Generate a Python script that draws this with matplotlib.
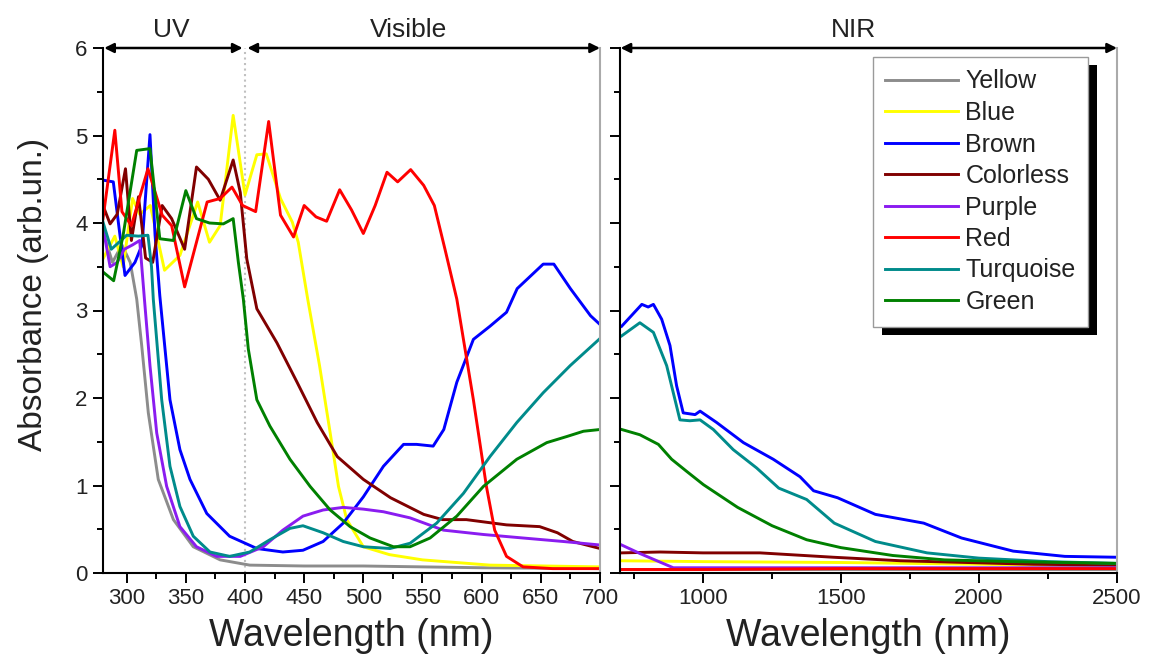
import numpy as np
import matplotlib
matplotlib.use('Agg')
import matplotlib.pyplot as plt
from matplotlib.patches import Rectangle
from matplotlib.transforms import IdentityTransform
from matplotlib.ticker import MultipleLocator

plt.rcParams['font.family'] = ['Liberation Sans', 'DejaVu Sans']

# ---- UV / visible part (280-700 nm) ----
yellow_x = [280, 288, 296, 303, 308.5, 312.7, 318.3, 326.7, 339.5, 356.3, 379, 404, 450, 500, 550, 600, 700]
yellow_y = [3.9, 3.55, 3.75, 3.55, 3.13, 2.6, 1.83, 1.07, 0.61, 0.3, 0.15, 0.09, 0.08, 0.08, 0.07, 0.06, 0.05]

blue_x = [280, 290, 297, 305, 311, 320, 332, 345, 360, 370, 379, 390, 400, 410, 418, 430, 440, 445,
          453, 463, 472, 479, 486, 500, 522, 550, 607, 700]
blue_y = [3.59, 3.85, 3.5, 4.28, 4.1, 4.2, 3.46, 3.63, 4.24, 3.78, 3.97, 5.23, 4.32, 4.78, 4.79, 4.28, 4.01, 3.78,
          3.13, 2.37, 1.6, 0.99, 0.61, 0.3, 0.21, 0.15, 0.09, 0.07]

brown_x = [280, 288.7, 298.6, 307, 313, 319.7, 324, 328, 336.6, 345, 353.5, 367.7, 387, 410, 432, 449, 466,
           483, 500, 517, 534, 545, 559, 568, 579, 593, 607, 621, 630, 652, 661, 675, 692, 700]
brown_y = [4.49, 4.47, 3.4, 3.55, 3.75, 5.01, 3.86, 3.17, 1.98, 1.41, 1.07, 0.68, 0.42, 0.28, 0.24, 0.26, 0.36,
           0.57, 0.87, 1.22, 1.47, 1.47, 1.45, 1.64, 2.18, 2.67, 2.82, 2.98, 3.25, 3.53, 3.53, 3.25, 2.94, 2.84]

colorless_x = [280, 286, 292, 299, 304, 310, 316, 322, 330, 338, 349, 359, 369, 379, 390, 396, 401.5, 410,
               427, 444, 461, 478, 500, 523, 551, 567, 587, 621, 649, 664, 677, 700]
colorless_y = [4.2, 3.99, 4.1, 4.62, 3.8, 4.3, 3.6, 3.55, 4.2, 4.05, 3.7, 4.64, 4.5, 4.26, 4.72, 4.35, 3.59, 3.02,
               2.63, 2.18, 1.72, 1.33, 1.07, 0.86, 0.67, 0.61, 0.61, 0.55, 0.53, 0.46, 0.36, 0.28]

purple_x = [280, 286, 292, 298, 305, 311, 315, 319.7, 325.4, 333.8, 345, 359, 376, 396, 415.5, 432, 449, 466,
            483, 500, 517, 539.5, 567.6, 601.5, 635, 669, 700]
purple_y = [3.95, 3.5, 3.55, 3.7, 3.75, 3.8, 3.13, 2.37, 1.6, 0.99, 0.53, 0.3, 0.19, 0.19, 0.3, 0.49, 0.65, 0.72,
            0.75, 0.73, 0.7, 0.63, 0.49, 0.44, 0.4, 0.36, 0.32]

red_x = [280, 290, 296, 304, 318, 330, 338, 349, 368, 379, 389, 398, 409, 420, 430, 441, 450, 460, 469, 480,
         490, 500, 510, 520, 529, 540, 551, 560, 569, 579, 593, 604, 611, 621, 635, 660, 700]
red_y = [4.05, 5.06, 4.13, 3.97, 4.62, 4.09, 3.97, 3.27, 4.24, 4.28, 4.41, 4.2, 4.13, 5.16, 4.09, 3.84, 4.2, 4.07,
         4.02, 4.38, 4.15, 3.88, 4.2, 4.58, 4.47, 4.61, 4.43, 4.2, 3.7, 3.13, 1.98, 0.99, 0.49, 0.19, 0.07, 0.05, 0.05]

turquoise_x = [280, 287, 300, 310, 318, 321, 322.5, 329.6, 336.6, 345, 356.3, 370.4, 387, 404, 421, 438, 449,
               466, 483, 500, 522.6, 539.5, 562, 584.6, 607, 629.7, 652, 674.8, 700]
turquoise_y = [4.01, 3.7, 3.86, 3.85, 3.86, 3.5, 3.13, 1.98, 1.22, 0.76, 0.42, 0.24, 0.19, 0.24, 0.38, 0.51, 0.54,
               0.46, 0.36, 0.3, 0.28, 0.34, 0.57, 0.91, 1.33, 1.72, 2.06, 2.37, 2.68]

green_x = [280, 289, 297, 308.5, 319.7, 328, 339.5, 350, 359, 370, 381.7, 390, 394.4, 398.6, 402.8, 410, 421,
           438, 455, 472, 488.8, 505.7, 525.4, 539.5, 556.4, 579, 601.5, 629.7, 655, 672, 686, 700]
green_y = [3.44, 3.34, 3.86, 4.83, 4.85, 3.82, 3.8, 4.37, 4.05, 4.0, 3.99, 4.05, 3.55, 3.13, 2.56, 1.98, 1.68,
           1.3, 0.99, 0.72, 0.53, 0.4, 0.3, 0.3, 0.4, 0.65, 0.99, 1.3, 1.49, 1.56, 1.62, 1.64]

# ---- NIR part (700-2500 nm) ----
yellow_nir_x = [700, 1000, 1500, 2000, 2500]
yellow_nir_y = [0.05, 0.05, 0.05, 0.05, 0.05]

blue_nir_x = [700, 1000, 1500, 2000, 2500]
blue_nir_y = [0.14, 0.13, 0.12, 0.1, 0.08]

brown_nir_x = [706, 779, 802, 821, 851, 881, 905, 929, 972, 990, 1050, 1147, 1255, 1352, 1401, 1488, 1625,
               1800, 1937, 2124, 2311, 2500]
brown_nir_y = [2.82, 3.07, 3.04, 3.07, 2.9, 2.6, 2.14, 1.83, 1.81, 1.85, 1.72, 1.49, 1.3, 1.1, 0.94, 0.86, 0.67,
               0.57, 0.4, 0.25, 0.19, 0.18]

colorless_nir_x = [706, 845, 1000, 1207, 1473, 1716, 1956, 2198, 2500]
colorless_nir_y = [0.23, 0.24, 0.23, 0.23, 0.18, 0.14, 0.12, 0.1, 0.09]

purple_nir_x = [706, 774, 893, 1200, 1600, 2000, 2500]
purple_nir_y = [0.32, 0.22, 0.06, 0.06, 0.06, 0.06, 0.06]

red_nir_x = [700, 1000, 1500, 2000, 2500]
red_nir_y = [0.04, 0.04, 0.05, 0.05, 0.05]

turquoise_nir_x = [706, 772, 821, 869, 917, 953, 990, 1038, 1110, 1195, 1275, 1376, 1476, 1625, 1812, 2000,
                   2249, 2500]
turquoise_nir_y = [2.71, 2.86, 2.75, 2.37, 1.75, 1.74, 1.75, 1.64, 1.41, 1.2, 0.97, 0.84, 0.57, 0.36, 0.23,
                   0.17, 0.13, 0.11]

green_nir_x = [706, 772, 839, 887, 942, 1002, 1126, 1251, 1376, 1500, 1688, 1875, 2124, 2500]
green_nir_y = [1.64, 1.58, 1.47, 1.3, 1.16, 1.01, 0.75, 0.54, 0.38, 0.29, 0.2, 0.15, 0.13, 0.11]

labels = ['Yellow', 'Blue', 'Brown', 'Colorless', 'Purple', 'Red', 'Turquoise', 'Green']
colors = ['#8c8c8c', '#ffff00', '#0000ff', '#800000', '#8a1cf0', '#ff0000', '#008b8b', '#008000']

vis = [(yellow_x, yellow_y), (blue_x, blue_y), (brown_x, brown_y), (colorless_x, colorless_y),
       (purple_x, purple_y), (red_x, red_y), (turquoise_x, turquoise_y), (green_x, green_y)]
nir = [(yellow_nir_x, yellow_nir_y), (blue_nir_x, blue_nir_y), (brown_nir_x, brown_nir_y),
       (colorless_nir_x, colorless_nir_y), (purple_nir_x, purple_nir_y), (red_nir_x, red_nir_y),
       (turquoise_nir_x, turquoise_nir_y), (green_nir_x, green_nir_y)]

W, H = 1154, 662
fig = plt.figure(figsize=(W / 100, H / 100), dpi=100)
ax1 = fig.add_axes([103 / W, 1 - 573 / H, 497 / W, 525 / H])
ax2 = fig.add_axes([620 / W, 1 - 573 / H, 497 / W, 525 / H])

lw = 2.1
for (x, y), c, lab in zip(vis, colors, labels):
    ax1.plot(x, y, color=c, lw=lw, label=lab)
for (x, y), c, lab in zip(nir, colors, labels):
    ax2.plot(x, y, color=c, lw=lw, label=lab)

ax1.axvline(400, color='#c0c0c0', ls=':', lw=1.5, zorder=1)

txtc = '#222222'
for ax in (ax1, ax2):
    ax.set_ylim(0, 6)
    ax.spines['top'].set_visible(False)
    ax.spines['right'].set_color('#aaaaaa')
    ax.spines['right'].set_linewidth(1.5)
    ax.spines['left'].set_linewidth(1.5)
    ax.spines['bottom'].set_linewidth(1.5)
    ax.yaxis.set_major_locator(MultipleLocator(1))
    ax.yaxis.set_minor_locator(MultipleLocator(0.5))
    ax.tick_params(which='major', direction='out', length=7, width=1.4, labelsize=16, pad=4,
                   labelcolor=txtc, top=False, right=False)
    ax.tick_params(which='minor', direction='out', length=4.5, width=1.4, top=False, right=False)
    ax.set_xlabel('Wavelength (nm)', fontsize=27, color=txtc, labelpad=6)

ax1.set_xlim(280, 700)
ax1.xaxis.set_major_locator(MultipleLocator(50))
ax1.xaxis.set_minor_locator(MultipleLocator(25))
ax1.set_ylabel('Absorbance (arb.un.)', fontsize=24, color=txtc)
ax1.yaxis.set_label_coords(-0.108, 0.53)

ax2.set_xlim(700, 2500)
ax2.xaxis.set_major_locator(MultipleLocator(500))
ax2.xaxis.set_minor_locator(MultipleLocator(250))
ax2.tick_params(axis='y', labelleft=False)

# region arrows along the top
arr = dict(arrowstyle='<|-|>', color='black', lw=1.8, shrinkA=0, shrinkB=0, mutation_scale=14)
ax1.annotate('', xy=(281, 6), xytext=(398, 6), arrowprops=arr, annotation_clip=False)
ax1.annotate('', xy=(402, 6), xytext=(700, 6), arrowprops=arr, annotation_clip=False)
ax2.annotate('', xy=(702, 6), xytext=(2500, 6), arrowprops=arr, annotation_clip=False)
ax1.text(338, 6.07, 'UV', ha='center', va='bottom', fontsize=19, color=txtc)
ax1.text(538, 6.07, 'Visible', ha='center', va='bottom', fontsize=19, color=txtc)
ax2.text(1545, 6.07, 'NIR', ha='center', va='bottom', fontsize=19, color=txtc)

leg = ax2.legend(loc='upper left', bbox_to_anchor=(873 / W, 1 - 57 / H), bbox_transform=fig.transFigure,
                 borderaxespad=0, fontsize=18, labelspacing=0.3, handlelength=2.9, handletextpad=0.3,
                 borderpad=0.5, fancybox=False, framealpha=1, edgecolor='#9a9a9a')
leg.get_frame().set_linewidth(1.0)
for t in leg.get_texts():
    t.set_color(txtc)
leg.set_zorder(6)

fig.canvas.draw()
bb = leg.get_window_extent()
shadow = Rectangle((bb.x0 + 9, bb.y0 - 8), bb.width, bb.height, transform=IdentityTransform(),
                   facecolor='black', edgecolor='none', zorder=5)
ax2.add_artist(shadow)

fig.savefig('out.png', dpi=100)
